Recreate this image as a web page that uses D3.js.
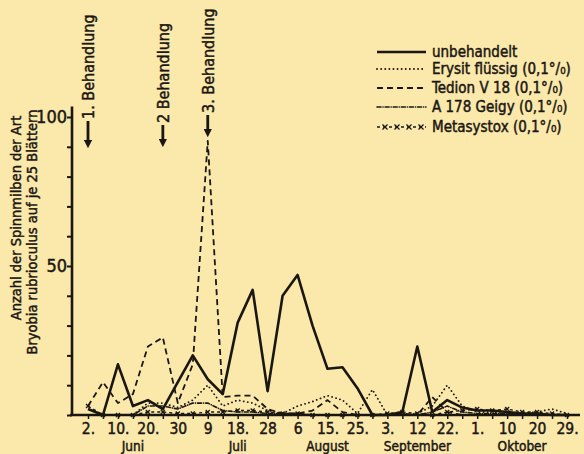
<!DOCTYPE html>
<html>
<head>
<meta charset="utf-8">
<script src="https://cdn.jsdelivr.net/npm/d3@7"></script>
<style>
	html, body { margin: 0; padding: 0; background: #fbe8ab; }
	#outer { width: 584px; height: 454px; }
	text { font-family: 'DejaVu Sans Condensed', 'Liberation Sans Narrow', 'DejaVu Sans', sans-serif; fill: #1a1712; stroke: #1a1712; stroke-width: 0.45px; }
</style>
</head>
<body>
<div id="outer"></div>
<script>
////////// DATA //////////
// observation dates (every ~5 days), drawn evenly spaced like in the original
const categories = ['2.6', '6.6', '10.6', '15.6', '20.6', '25.6', '30.6', '4.7', '9.7', '13.7', '18.7', '23.7', '28.7',
	'1.8', '6.8', '10.8', '15.8', '20.8', '25.8', '29.8', '3.9', '7.9', '12.9', '17.9', '22.9', '26.9',
	'1.10', '5.10', '10.10', '15.10', '20.10', '24.10', '29.10'];
const tickLabels = ['2.', '', '10.', '', '20.', '', '30', '', '9', '', '18.', '', '28', '',
	'6', '', '15.', '', '25.', '', '3.', '', '12', '', '22.', '', '1.', '', '10', '', '20', '', '29.'];
const monthNames = ['Juni', 'Juli', 'August', 'September', 'Oktober'];
const monthAt = ['15.6', '18.7', '15.8', '12.9', '15.10'];
const treatmentNames = ['1. Behandlung', '2 Behandlung', '3. Behandlung'];
const treatmentAt = ['2.6', '25.6', '9.7'];

const unbehandelt = [2, 0, 17, 3, 5, 2, 11, 20, 12, 7, 31, 42, 8, 40, 47, 30, 15.5, 16, 9, 0, 0, 1, 23, 1, 5, 2.5, 1.5, 1.5, 1, 0.5, 0.5, 0, 0];
const erysit = [0, 0, 0, 0, 4, 4, 2.5, 5, 10, 3, 5, 4, 1.5, 0.5, 3, 4.5, 6.5, 5, 0.5, 8.5, 0, 0, 0.5, 3, 10, 3, 1, 1, 0.5, 0.5, 1, 2, 0.5];
const tedion = [3, 11, 4, 7, 23, 26, 4, 17, 92, 6, 6.5, 6.5, 2, 0.5, 0.5, 1.5, 5, 1, 0, 0, 0, 0, 0, 6, 1, 0, 0, 0, 0, 0, 0, 0, 0];
const a178 = [0, 0, 0, 0, 3, 3, 2, 4, 4, 1.5, 1, 1, 0.5, 0.5, 0.5, 0, 0, 0, 0, 0, 0, 0.5, 0, 1, 3, 1, 0.5, 0.5, 0.5, 0, 0, 0, 0];
const metasystox = [3, 0, 0, 0, 1, 1, 0.5, 0.5, 1, 1, 1.5, 1.5, 1, 0.5, 0.5, 0, 0, 0, 0, 0, 0.5, 1, 0.5, 0, 1, 1.5, 2, 1.5, 2, 1, 1, 0.5, 0];

const seriesNames = ['unbehandelt', 'Erysit flüssig (0,1°/₀)', 'Tedion V 18 (0,1°/₀)', 'A 178 Geigy (0,1°/₀)', 'Metasystox (0,1°/₀)'];

function drawChart () {
	const ink = '#1a1712';
	const width = 584, height = 454;
	const series = [
		{ name: seriesNames[0], values: unbehandelt, width: 2.6, dash: null },
		{ name: seriesNames[1], values: erysit, width: 1.8, dash: '0.1,4', cap: 'round' },
		{ name: seriesNames[2], values: tedion, width: 1.8, dash: '6,4' },
		{ name: seriesNames[3], values: a178, width: 1.6, dash: '4,2,0.1,2', cap: 'round' },
		{ name: seriesNames[4], values: metasystox, width: 1.4, dash: '3,3', cross: true }
	];

	////////// SCALES //////////
	const x = d3.scalePoint().domain(categories).range([88, 567]);
	const y = d3.scaleLinear().domain([0, 100]).range([415, 117]);

	const svg = d3.select('#outer').append('svg')
		.attr('width', width)
		.attr('height', height);

	svg.append('rect')
		.attr('width', width)
		.attr('height', height)
		.attr('fill', '#fbe8ab');

	////////// AXES //////////
	const yAxis = svg.append('g')
		.attr('transform', 'translate(72,0)')
		.call(d3.axisLeft(y).tickValues(d3.range(0, 101, 10)).tickSize(5).tickPadding(0)
			.tickFormat(d => (d === 50 || d === 100) ? d : ''));
	yAxis.select('.domain').remove();
	yAxis.selectAll('line').attr('stroke', ink).attr('stroke-width', 2);
	yAxis.selectAll('text').attr('font-size', 18).attr('font-family', null).attr('fill', ink);
	svg.append('line')
		.attr('x1', 72).attr('x2', 72)
		.attr('y1', y(0) + 1).attr('y2', y(103.5))
		.attr('stroke', ink).attr('stroke-width', 2.6);

	const xAxis = svg.append('g')
		.attr('transform', `translate(0,${y(0)})`)
		.call(d3.axisBottom(x).tickSize(4).tickPadding(4).tickFormat((d, i) => tickLabels[i]));
	xAxis.select('.domain').remove();
	xAxis.selectAll('line').attr('stroke', ink).attr('stroke-width', 1.5);
	xAxis.selectAll('text').attr('font-size', 15.5).attr('font-family', null).attr('fill', ink);
	svg.append('line')
		.attr('x1', 70).attr('x2', 580)
		.attr('y1', y(0)).attr('y2', y(0))
		.attr('stroke', ink).attr('stroke-width', 2.6);

	svg.append('g').selectAll('text')
		.data(monthNames)
		.join('text')
		.attr('x', (d, i) => x(monthAt[i]))
		.attr('y', 450.5)
		.attr('text-anchor', 'middle')
		.attr('font-size', 13.5)
		.text(d => d);

	// y title, two lines
	svg.append('text')
		.attr('transform', 'translate(21,218) rotate(-90)')
		.attr('text-anchor', 'middle')
		.attr('font-size', 14.5)
		.text('Anzahl der Spinnmilben der Art');
	svg.append('text')
		.attr('transform', 'translate(37,232) rotate(-90)')
		.attr('text-anchor', 'middle')
		.attr('font-size', 14.5)
		.text('Bryobia rubrioculus auf je 25 Blättern');

	////////// TREATMENT ARROWS //////////
	const defs = svg.append('defs');
	defs.append('marker')
		.attr('id', 'arrowhead')
		.attr('viewBox', '0 0 10 10')
		.attr('refX', 5).attr('refY', 5)
		.attr('markerWidth', 3).attr('markerHeight', 3)
		.attr('orient', 'auto')
		.append('path')
		.attr('d', 'M0,0 L10,5 L0,10 z')
		.attr('fill', ink);

	const arrowTop = [121, 125, 115];
	const arrowEnd = [148, 147, 137];
	const treat = svg.append('g');
	treatmentNames.forEach((name, i) => {
		const tx = x(treatmentAt[i]);
		treat.append('line')
			.attr('x1', tx).attr('x2', tx)
			.attr('y1', arrowTop[i]).attr('y2', arrowEnd[i] - 4)
			.attr('stroke', ink).attr('stroke-width', 2.8)
			.attr('marker-end', 'url(#arrowhead)');
		treat.append('text')
			.attr('transform', `translate(${tx + 6},${arrowTop[i] - 2}) rotate(-90)`)
			.attr('font-size', 16)
			.text(name);
	});

	////////// LINES //////////
	const line = d3.line()
		.x((d, i) => x(categories[i]))
		.y(d => y(d));

	const lines = svg.append('g').attr('fill', 'none');
	series.slice().reverse().forEach(s => {
		lines.append('path')
			.attr('d', line(s.values))
			.attr('stroke', ink)
			.attr('stroke-width', s.width)
			.attr('stroke-dasharray', s.dash)
			.attr('stroke-linecap', s.cap || 'butt')
			.attr('stroke-linejoin', 'round');
		if (s.cross) {
			lines.selectAll(null)
				.data(s.values)
				.join('path')
				.attr('transform', (d, i) => `translate(${x(categories[i])},${y(d)})`)
				.attr('d', 'M-2,-2L2,2M-2,2L2,-2')
				.attr('stroke', ink)
				.attr('stroke-width', 1.3);
		}
	});

	////////// LEGEND //////////
	const legendY = [52, 69, 88, 107, 127];
	const legend = svg.append('g');
	series.forEach((s, i) => {
		legend.append('line')
			.attr('x1', 377).attr('x2', 426)
			.attr('y1', legendY[i]).attr('y2', legendY[i])
			.attr('stroke', ink)
			.attr('stroke-width', s.width)
			.attr('stroke-dasharray', s.dash)
			.attr('stroke-linecap', s.cap || 'butt');
		if (s.cross) {
			legend.selectAll(null)
				.data(d3.range(385, 426, 12))
				.join('path')
				.attr('transform', d => `translate(${d},${legendY[i]})`)
				.attr('d', 'M-2.5,-2.5L2.5,2.5M-2.5,2.5L2.5,-2.5')
				.attr('stroke', ink)
				.attr('stroke-width', 1.3);
		}
		legend.append('text')
			.attr('x', 432)
			.attr('y', legendY[i] + 5)
			.attr('font-size', 15)
			.text(s.name);
	});
}

drawChart();
</script>
</body>
</html>
